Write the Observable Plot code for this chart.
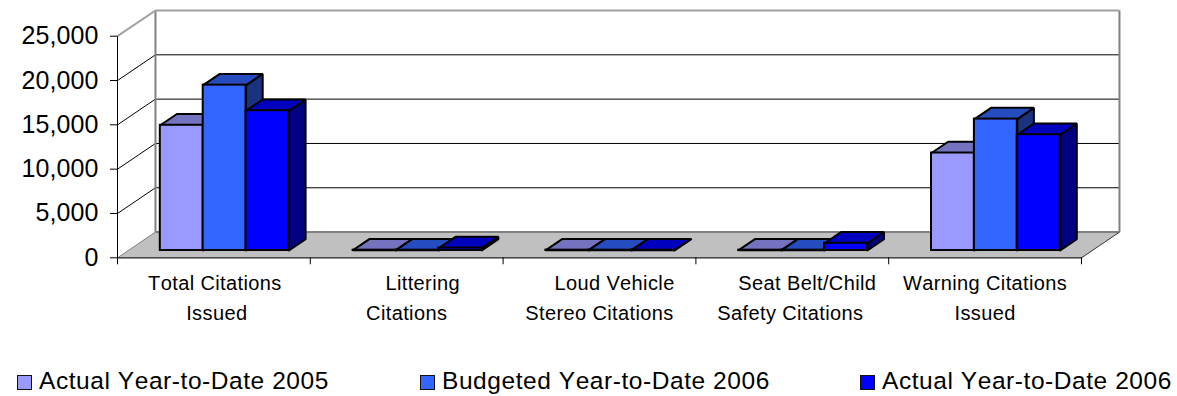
<!DOCTYPE html>
<html>
<head>
<meta charset="utf-8">
<script src="https://cdn.jsdelivr.net/npm/d3@7"></script>
<script src="https://cdn.jsdelivr.net/npm/@observablehq/plot@0.6"></script>
<style>
  html, body { margin: 0; padding: 0; background: #fff; }
  svg { display: block; }
  .cat { letter-spacing: 0.38px; font-kerning: none; }
  .val { letter-spacing: 0.1px; }
  #legend { position: relative; width: 1177px; height: 41px; font: 24.5px "Liberation Sans", Arial, sans-serif; letter-spacing: 0.56px; font-kerning: none; color: #000; }
  #legend .sw { position: absolute; top: 20px; width: 13px; height: 13px; border: 1px solid #111; box-sizing: content-box; }
  #legend .tx { position: absolute; top: 12px; white-space: nowrap; line-height: 28px; }
</style>
</head>
<body>
<div id="chart"></div>
<div id="legend"></div>
<script>
// ---- data ----
const categoryLine1 = ["Total Citations", "Littering", "Loud Vehicle", "Seat Belt/Child", "Warning Citations"];
const categoryLine2 = ["Issued", "Citations", "Stereo Citations", "Safety Citations", "Issued"];
const actual2005   = [14130, 40, 40, 40, 11000];
const budgeted2006 = [18660, 40, 40, 40, 14830];
const actual2006   = [15770, 280, 40, 820, 13060];
const seriesNames  = ["Actual Year-to-Date 2005", "Budgeted Year-to-Date 2006", "Actual Year-to-Date 2006"];
const yTicks = [0, 5000, 10000, 15000, 20000, 25000];

// ---- styles and layout ----
const palette = [
  {front: "#9999FF", top: "#7373BF", side: "#4D4D80"},
  {front: "#3366FF", top: "#264DBF", side: "#1A3380"},
  {front: "#0000FF", top: "#0000BF", side: "#000080"}
];
const depthX = 0.197, depthY = 2900;      // oblique projection of the full depth, in scale units
const barFrontD = 0.283, barBackD = 0.72; // depth of the bars' front and back planes
const slot = 0.2225;                      // bar width as a share of a category
const line1Shift = [0.005, 0.083, 0.078, 0.078, 0];   // in categories
const line2Shift = [0.015, 0, 0, -0.01, 0];
const legendSwatchX = [17, 420, 860];
const legendTextX = [39, 442, 882];
const n = categoryLine1.length;

const P = (x, v, d) => ({x: x + d * depthX, y: v + d * depthY});
const poly = (id, pts) => [...pts, pts[0]].map(p => ({...p, id}));
const series = [actual2005, budgeted2006, actual2006];
const seg = (a, b) => ({x1: a.x, y1: a.y, x2: b.x, y2: b.y});

const barMarks = series.flatMap((vals, s) => {
  const boxes = vals.map((v, i) => {
    const x1 = i + 0.5 + (s - 1.5) * slot, x2 = x1 + slot;
    return {x1, x2, v, i};
  });
  const sides = boxes.flatMap(b => poly(b.i, [P(b.x2, 0, barFrontD), P(b.x2, 0, barBackD), P(b.x2, b.v, barBackD), P(b.x2, b.v, barFrontD)]));
  const tops  = boxes.flatMap(b => poly(b.i, [P(b.x1, b.v, barFrontD), P(b.x2, b.v, barFrontD), P(b.x2, b.v, barBackD), P(b.x1, b.v, barBackD)]));
  const fronts = boxes.map(b => {
    const a = P(b.x1, 0, barFrontD), c = P(b.x2, b.v, barFrontD);
    return {x1: a.x, x2: c.x, y1: a.y, y2: c.y};
  });
  const outline = {stroke: "#000", strokeWidth: 2, strokeLinejoin: "miter"};
  return [
    Plot.line(sides, {x: "x", y: "y", z: "id", fill: palette[s].side, ...outline}),
    Plot.line(tops, {x: "x", y: "y", z: "id", fill: palette[s].top, ...outline}),
    Plot.rect(fronts, {x1: "x1", x2: "x2", y1: "y1", y2: "y2", fill: palette[s].front, ...outline})
  ];
});

const floor = poly("floor", [P(0, 0, 0), P(n, 0, 0), P(n, 0, 1), P(0, 0, 1)]);
const inner = yTicks.slice(1, -1);
const yMax = yTicks[yTicks.length - 1];
const gridLinks = inner.map(v => seg(P(0, v, 1), P(n, v, 1)));
const wallDiagonals = inner.map(v => seg(P(0, v, 0), P(0, v, 1)));

const font = {fontFamily: "Liberation Sans, Arial, sans-serif"};
const idx = d3.range(n);
const linkXY = {x1: "x1", y1: "y1", x2: "x2", y2: "y2"};

const plot = Plot.plot({
  width: 1177,
  height: 355,
  marginLeft: 117,
  marginRight: 96,
  marginTop: 35.7,
  marginBottom: 97.7,
  style: {background: "#fff", color: "#000", overflow: "visible"},
  x: {domain: [0, n], axis: null},
  y: {domain: [0, yMax], axis: null},
  marks: [
    Plot.line(floor, {x: "x", y: "y", fill: "#C0C0C0", stroke: "none"}),
    Plot.link(gridLinks, {...linkXY, stroke: "#000", strokeWidth: 1}),
    Plot.link(wallDiagonals, {...linkXY, stroke: "#000", strokeWidth: 1}),
    // walls
    Plot.link([seg(P(0, 0, 1), P(n, 0, 1)), seg(P(0, 0, 1), P(0, yMax, 1)), seg(P(n, 0, 1), P(n, yMax, 1))],
      {...linkXY, stroke: "#808080", strokeWidth: 2}),
    Plot.link([seg(P(0, yMax, 1), P(n, yMax, 1)), seg(P(0, yMax, 0), P(0, yMax, 1))],
      {...linkXY, stroke: "#A0A0A0", strokeWidth: 2}),
    Plot.link([seg(P(0, 0, 0), P(0, 0, 1))], {...linkXY, stroke: "#808080", strokeWidth: 1}),
    Plot.link([seg(P(n, 0, 0), P(n, 0, 1))], {...linkXY, stroke: "#333", strokeWidth: 1}),
    // front axis lines
    Plot.link([seg(P(0, 0, 0), P(0, yMax, 0))], {...linkXY, stroke: "#000", strokeWidth: 1}),
    Plot.link([seg(P(0, 0, 0), P(n, 0, 0))], {...linkXY, stroke: "#222", strokeWidth: 1.3}),
    ...barMarks,
    Plot.axisY({ticks: yTicks, tickFormat: d3.format(","), tickSize: 7, tickPadding: 12, fontSize: 25, ...font, className: "val", label: null}),
    Plot.axisX({ticks: d3.range(n + 1), tickFormat: () => "", tickSize: 7, label: null}),
    Plot.text(idx, {x: i => i + 0.5 + line1Shift[i], y: () => 0, text: i => categoryLine1[i], dy: 26, fontSize: 20, ...font, className: "cat"}),
    Plot.text(idx, {x: i => i + 0.5 + line2Shift[i], y: () => 0, text: i => categoryLine2[i], dy: 55.5, fontSize: 20, ...font, className: "cat"})
  ]
});
document.getElementById("chart").append(plot);

const legend = document.getElementById("legend");
seriesNames.forEach((name, s) => {
  const sw = document.createElement("span");
  sw.className = "sw";
  sw.style.left = legendSwatchX[s] + "px";
  sw.style.background = palette[s].front;
  const tx = document.createElement("span");
  tx.className = "tx";
  tx.style.left = legendTextX[s] + "px";
  tx.textContent = name;
  legend.append(sw, tx);
});
</script>
</body>
</html>
